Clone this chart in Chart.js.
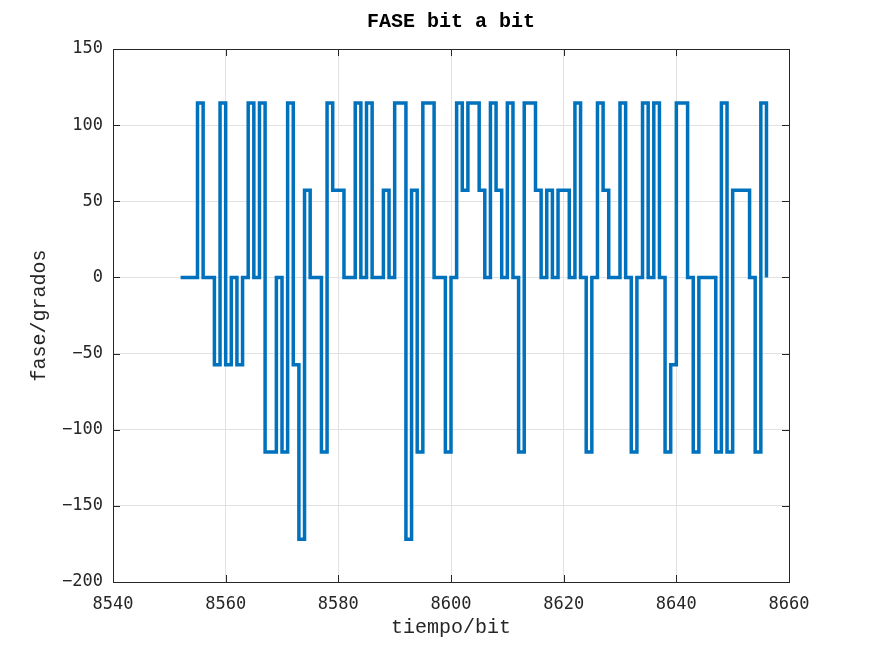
<!DOCTYPE html>
<html>
<head>
<meta charset="utf-8">
<script src="https://cdn.jsdelivr.net/npm/chart.js@4.4.1/dist/chart.umd.min.js"></script>
<style>
  html, body { margin: 0; padding: 0; background: #fff; }
  #wrap { width: 872px; height: 654px; }
</style>
</head>
<body>
<div id="wrap"><canvas id="faseChart" width="872" height="654"></canvas></div>
<script>
tiempo = [8552, 8553, 8554, 8555, 8556, 8557, 8558, 8559, 8560, 8561,
  8562, 8563, 8564, 8565, 8566, 8567, 8568, 8569, 8570, 8571,
  8572, 8573, 8574, 8575, 8576, 8577, 8578, 8579, 8580, 8581,
  8582, 8583, 8584, 8585, 8586, 8587, 8588, 8589, 8590, 8591,
  8592, 8593, 8594, 8595, 8596, 8597, 8598, 8599, 8600, 8601,
  8602, 8603, 8604, 8605, 8606, 8607, 8608, 8609, 8610, 8611,
  8612, 8613, 8614, 8615, 8616, 8617, 8618, 8619, 8620, 8621,
  8622, 8623, 8624, 8625, 8626, 8627, 8628, 8629, 8630, 8631,
  8632, 8633, 8634, 8635, 8636, 8637, 8638, 8639, 8640, 8641,
  8642, 8643, 8644, 8645, 8646, 8647, 8648, 8649, 8650, 8651,
  8652, 8653, 8654, 8655, 8656]
fase = [0, 0, 0, 114.6, 0, 0, -57.3, 114.6, -57.3, 0,
  -57.3, 0, 114.6, 0, 114.6, -114.6, -114.6, 0, -114.6, 114.6,
  -57.3, -171.9, 57.3, 0, 0, -114.6, 114.6, 57.3, 57.3, 0,
  0, 114.6, 0, 114.6, 0, 0, 57.3, 0, 114.6, 114.6,
  -171.9, 57.3, -114.6, 114.6, 114.6, 0, 0, -114.6, 0, 114.6,
  57.3, 114.6, 114.6, 57.3, 0, 114.6, 57.3, 0, 114.6, 0,
  -114.6, 114.6, 114.6, 57.3, 0, 57.3, 0, 57.3, 57.3, 0,
  114.6, 0, -114.6, 0, 114.6, 57.3, 0, 0, 114.6, 0,
  -114.6, 0, 114.6, 0, 114.6, 0, -114.6, -57.3, 114.6, 114.6,
  0, -114.6, 0, 0, 0, -114.6, 114.6, -114.6, 57.3, 57.3,
  57.3, 0, -114.6, 114.6, 0]
xTicks = [8540, 8560, 8580, 8600, 8620, 8640, 8660]
yTicks = [-200, -150, -100, -50, 0, 50, 100, 150]

puntos = []
tiempo.forEach(function (t, i) {
  puntos.push({x: t, y: fase[i]})
})

ejeColor = '#262626'
tickFont = {family: 'DejaVu Sans Mono', size: 17}
labelFont = {family: 'Liberation Mono', size: 20}

function etiqueta(v) {
  return v < 0 ? '\u2212' + Math.abs(v) : String(v)
}

// marco de la grafica con marcas hacia dentro en los cuatro lados
cajaPlugin = {
  id: 'caja',
  afterDraw: function (chart) {
    ctx = chart.ctx
    a = chart.chartArea
    sx = chart.scales.x
    sy = chart.scales.y
    ctx.save()
    ctx.strokeStyle = ejeColor
    ctx.lineWidth = 1
    ctx.beginPath()
    xTicks.forEach(function (v) {
      px = Math.round(sx.getPixelForValue(v)) + 0.5
      ctx.moveTo(px, a.bottom)
      ctx.lineTo(px, a.bottom - 7)
      ctx.moveTo(px, a.top)
      ctx.lineTo(px, a.top + 7)
    })
    yTicks.forEach(function (v) {
      py = Math.round(sy.getPixelForValue(v)) + 0.5
      ctx.moveTo(a.left, py)
      ctx.lineTo(a.left + 7, py)
      ctx.moveTo(a.right, py)
      ctx.lineTo(a.right - 7, py)
    })
    ctx.stroke()
    ctx.strokeRect(Math.round(a.left) + 0.5, Math.round(a.top) + 0.5,
      Math.round(a.right - a.left), Math.round(a.bottom - a.top))
    ctx.restore()
  }
}

ctx0 = document.getElementById('faseChart').getContext('2d')
faseChart = new Chart(ctx0, {
  type: 'line',
  data: {
    datasets: [{
      data: puntos,
      borderColor: '#0072BD',
      borderWidth: 3.5,
      stepped: true,
      pointRadius: 0,
      fill: false,
      borderJoinStyle: 'miter',
      borderCapStyle: 'butt'
    }]
  },
  options: {
    responsive: false,
    animation: false,
    layout: {padding: {left: 0, right: 83, top: 0, bottom: 0}},
    plugins: {
      legend: {display: false},
      tooltip: {enabled: false},
      title: {
        display: true,
        text: 'FASE bit a bit',
        fullSize: false,
        color: '#000',
        font: {family: 'Liberation Mono', size: 20, weight: 'bold'},
        padding: {top: 10, bottom: 15}
      }
    },
    scales: {
      x: {
        type: 'linear',
        min: 8540,
        max: 8660,
        afterFit: function (s) { s.height = 72 },
        afterBuildTicks: function (s) { s.ticks = xTicks.map(function (v) { return {value: v} }) },
        ticks: {
          font: tickFont,
          color: ejeColor,
          padding: 12,
          maxRotation: 0,
          callback: etiqueta
        },
        grid: {color: '#e2e2e2', drawTicks: false},
        border: {display: false},
        title: {
          display: true,
          text: 'tiempo/bit',
          color: ejeColor,
          font: labelFont,
          padding: {top: 0, bottom: 14}
        }
      },
      y: {
        type: 'linear',
        min: -200,
        max: 150,
        afterFit: function (s) { s.width = 113 },
        afterBuildTicks: function (s) { s.ticks = yTicks.map(function (v) { return {value: v} }) },
        ticks: {
          font: tickFont,
          color: ejeColor,
          padding: 10,
          callback: etiqueta
        },
        grid: {color: '#e2e2e2', drawTicks: false},
        border: {display: false},
        title: {
          display: true,
          text: 'fase/grados',
          color: ejeColor,
          font: labelFont,
          padding: {top: 28, bottom: 0}
        }
      }
    }
  },
  plugins: [cajaPlugin]
})
</script>
</body>
</html>
